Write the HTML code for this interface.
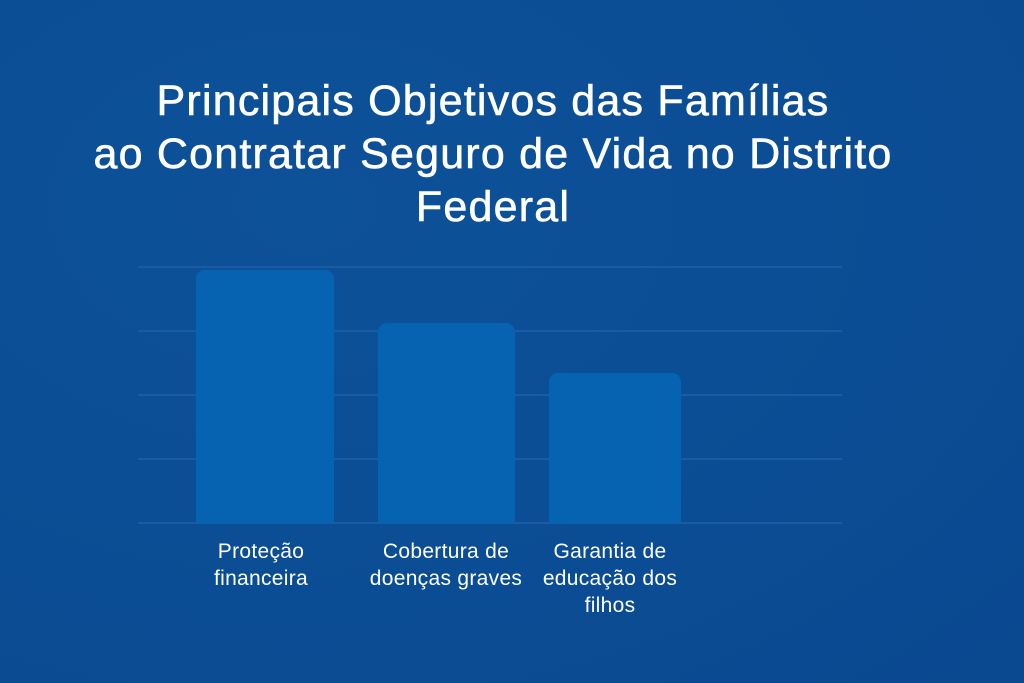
<!DOCTYPE html>
<html><head><style>
body{margin:0;width:1024px;height:683px;overflow:hidden;background:#0b4e95;font-family:"Liberation Sans",sans-serif;}
.bg{position:absolute;left:0;top:0;width:1024px;height:683px;background:radial-gradient(ellipse at 30% 30%,#0d5199 0%,#0b4d94 60%,#0a4890 100%);}
.t{position:absolute;left:0;width:986px;text-align:center;color:#fff;font-size:43px;letter-spacing:1.2px;-webkit-text-stroke:0.6px #fff;line-height:53px;top:75px;}
.g{position:absolute;left:138px;width:704px;height:2px;background:#1a5ca4;}
.b{position:absolute;background:#0663b2;border-radius:9px 9px 0 0;}
.l{position:absolute;color:#fff;font-size:21px;letter-spacing:0.3px;line-height:27px;text-align:center;}
</style></head><body><div class="bg"></div>
<div class="t">Principais Objetivos das Famílias<br>ao Contratar Seguro de Vida no Distrito<br>Federal</div>
<div class="g" style="top:266px"></div>
<div class="g" style="top:330px"></div>
<div class="g" style="top:394px"></div>
<div class="g" style="top:458px"></div>
<div class="g" style="top:522px"></div>
<div class="b" style="left:196px;top:270px;width:138px;height:253px"></div>
<div class="b" style="left:378px;top:323px;width:137px;height:200px"></div>
<div class="b" style="left:549px;top:373px;width:132px;height:150px"></div>
<div class="l" style="left:166px;width:190px;top:538px">Proteção<br>financeira</div>
<div class="l" style="left:351px;width:190px;top:538px">Cobertura de<br>doenças graves</div>
<div class="l" style="left:515px;width:190px;top:538px">Garantia de<br>educação dos<br>filhos</div>
</body></html>
